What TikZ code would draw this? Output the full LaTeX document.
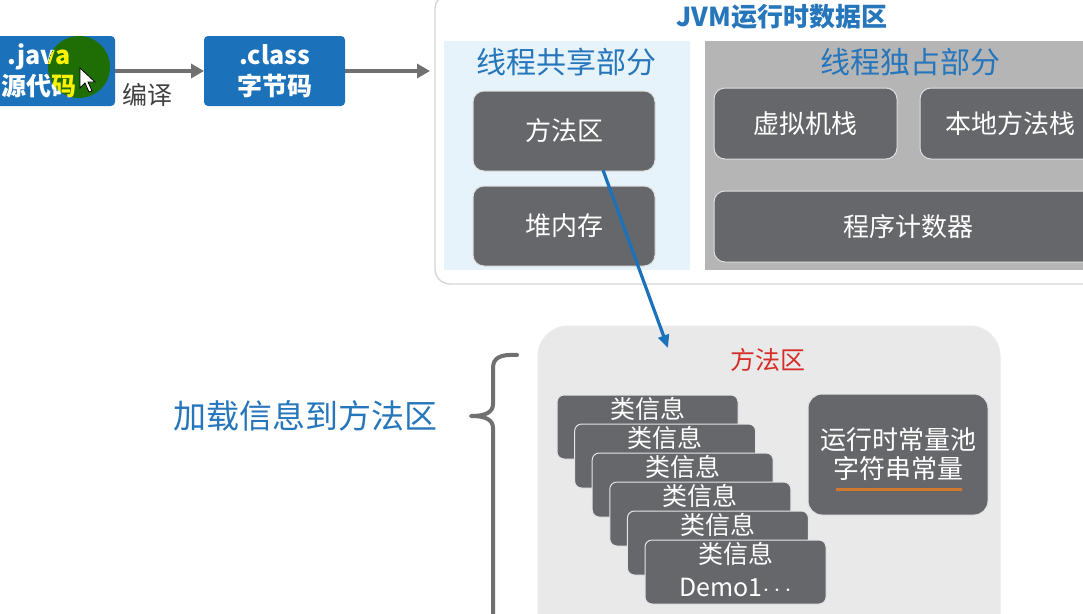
\documentclass[tikz,border=0pt]{standalone}
\usepackage{fontspec}
\setmainfont{Noto Sans CJK SC}
\usetikzlibrary{arrows.meta,calc}
\definecolor{jblue}{RGB}{27,114,186}
\definecolor{tblue}{RGB}{38,118,188}
\definecolor{dgray}{RGB}{102,103,107}
\definecolor{agray}{RGB}{112,112,112}
\definecolor{sharebg}{RGB}{230,243,251}
\definecolor{exclbg}{RGB}{181,181,181}
\definecolor{lowbg}{RGB}{233,233,233}
\definecolor{mred}{RGB}{215,45,40}
\definecolor{orng}{RGB}{210,120,45}
\definecolor{cgreen}{RGB}{30,110,5}
\newcommand\fsz[2]{\fontsize{#1}{#2}\selectfont}
\begin{document}
\begin{tikzpicture}[x=1pt,y=-1pt,
  place/.style={anchor=north west, inner sep=0pt, outer sep=0pt},
  bluebox/.style={place, fill=jblue, rounded corners=4, text=white, align=center, font=\fsz{25}{31}\bfseries},
  darkbox/.style={place, fill=dgray, draw=white!75!gray, line width=1, rounded corners=11, text=white, font=\fsz{26}{30}},
  infobox/.style={place, fill=dgray, draw=white!80!gray, line width=1, rounded corners=7},
  infotext/.style={text=white, font=\fsz{25}{28}},
  bluetitle/.style={text=tblue, font=\fsz{30}{34}},
  grayarrow/.style={draw=agray, line width=4, -{Triangle[length=13,width=14]}},
  bluearrow/.style={draw=jblue, line width=3.2, -{Triangle[length=13,width=11]}},
  bracestyle/.style={draw=agray, line width=4, line cap=round, line join=round}]
\useasboundingbox (0,0) rectangle (1083,613);
\clip (0,0) rectangle (1083,613);
\fill[white] (0,0) rectangle (1083,613);

% JVM runtime data area
\node[place, draw=black!17, line width=1.3, fill=white, rounded corners=15, minimum width=690, minimum height=290] (jvm) at (435,-6) {};
\node[text=tblue, font=\fsz{26}{30}\bfseries] (jvmt) at (782,17) {JVM运行时数据区};
\node[place, fill=sharebg, minimum width=246, minimum height=229] (share) at (444,41) {};
\node[bluetitle] (sharet) at (566,62) {线程共享部分};
\node[place, fill=exclbg, minimum width=400, minimum height=229] (excl) at (705,41) {};
\node[bluetitle] (exclt) at (910,62) {线程独占部分};

\node[darkbox, minimum width=182, minimum height=80] (ma) at (473,91) {方法区};
\node[darkbox, minimum width=182, minimum height=80] (heap) at (473,186) {堆内存};
\node[darkbox, minimum width=183, minimum height=71] (vm) at (714,88) {虚拟机栈};
\node[darkbox, minimum width=180, minimum height=71] (native) at (920,88) {本地方法栈};
\node[darkbox, minimum width=388, minimum height=71] (pc) at (714,191) {程序计数器};

% source -> bytecode
\node[bluebox, minimum width=152, minimum height=70] (java) at (-37,36) {.java\\源代码};
\node[bluebox, minimum width=141, minimum height=70] (class) at (204,36) {.class\\字节码};
\draw[grayarrow] (java.east) -- (class.west);
\draw[grayarrow, shorten >=5] (class.east) -- (jvm.west |- class.east);
\node[text=black!75, font=\fsz{25}{28}] (compile) at (147,95) {编译};

% cursor highlight
\fill[cgreen] (79,67) circle (31);
\begin{scope}
  \clip (79,67) circle (31);
  \node[place, minimum width=152, minimum height=70, text=yellow, align=center, font=\fsz{25}{31}\bfseries] (javahl) at (-37,36) {.java\\源代码};
\end{scope}
\filldraw[fill=white, draw=black, line width=0.8] (80,68) -- (80,88) -- (85,83) -- (89,92) -- (92,91) -- (88,82) -- (95,82) -- cycle;

% lower method area
\node[place, fill=lowbg, draw=black!8, line width=1, rounded corners=30, minimum width=462, minimum height=330] (low) at (538,326) {};
\node[text=mred, font=\fsz{25}{28}] (lowt) at (768,360) {方法区};
\coordinate (lowin) at (668,348);
\draw[bluearrow] ($(ma.south)+(39,-1)$) -- (lowin);

\foreach \i in {0,...,5} {
  \node[infobox, minimum width=181, minimum height=64] (ci\i) at ({557+17.6*\i},{395+29*\i}) {};
  \node[infotext] (ct\i) at ($(ci\i.north)+(0,14)$) {类信息};
}
\node[infotext] (demo) at ($(ci5.north)+(0,47)$) {Demo1$\cdots$};

\node[infobox, rounded corners=14, minimum width=180, minimum height=121] (pool) at (808,394) {};
\node[infotext, align=center, font=\fsz{26}{29}] (poolt) at ($(pool.north)+(0,60)$) {运行时常量池\\字符串常量};
\draw[draw=orng, line width=3] ($(pool.north)+(-62,95)$) coordinate (ul1) -- ($(pool.north)+(64,95)$) coordinate (ul2);

% brace and label
\draw[bracestyle] (517,355) .. controls (500,354) and (493,358) .. (493,368) -- (493,404)
  .. controls (493,412) and (486,416) .. (471,416)
  .. controls (486,416) and (493,420) .. (493,428) -- (493,620);
\node[text=tblue, font=\fsz{33}{36}] (load) at (305,416) {加载信息到方法区};
\end{tikzpicture}
\end{document}
